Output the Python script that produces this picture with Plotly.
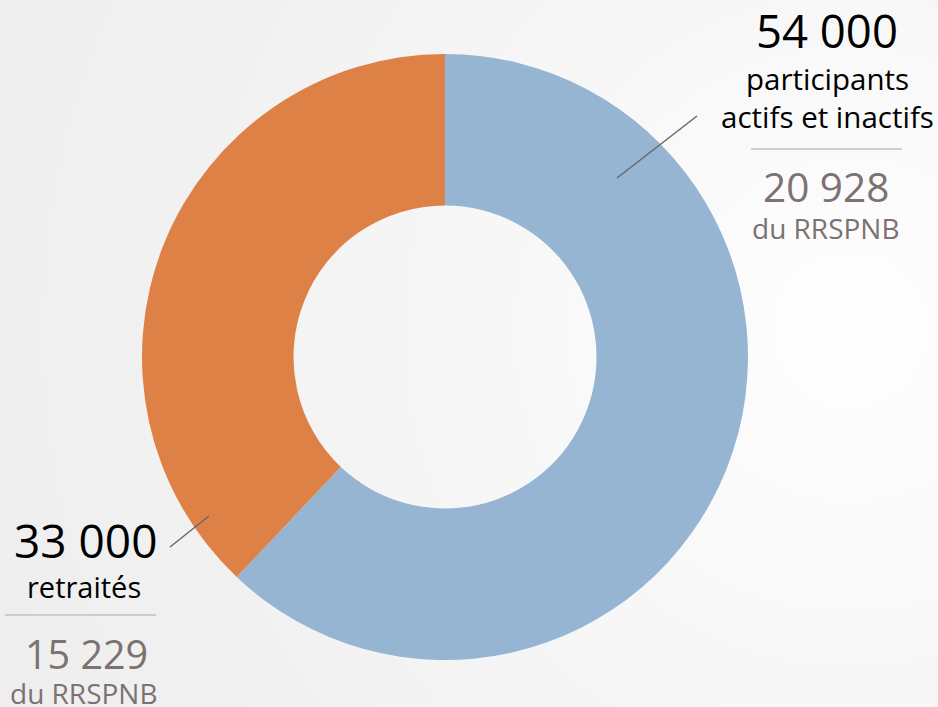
import plotly.graph_objects as go

labels = ["participants actifs et inactifs", "retraités"]
values = [54000, 33000]
rrspnb = [20928, 15229]
colors = ["#95B5D3", "#DE8147"]

W, H = 938, 707

fig = go.Figure()

# background radial gradient (concentric opaque circles)
shapes = []
cx, cy = 850, 330  # px from top-left
N = 60
Rmax = 950
for i in range(N, 0, -1):
    r = Rmax * i / N
    g = 255 - 17 * min(1.0, r / 900)
    g = int(round(g))
    col = f"rgb({g},{g-1 if g>240 else g},{g-1 if g>240 else g})"
    shapes.append(dict(type="circle", xref="paper", yref="paper", layer="below",
                       x0=(cx - r) / W, x1=(cx + r) / W,
                       y0=(H - cy - r) / H, y1=(H - cy + r) / H,
                       fillcolor=col, line=dict(width=0)))

# connector lines
shapes.append(dict(type="line", xref="paper", yref="paper", layer="above",
                   x0=617 / W, y0=(H - 178) / H, x1=697 / W, y1=(H - 116) / H,
                   line=dict(color="#6E6666", width=1.5)))
shapes.append(dict(type="line", xref="paper", yref="paper", layer="above",
                   x0=170 / W, y0=(H - 547) / H, x1=209 / W, y1=(H - 516) / H,
                   line=dict(color="#6E6666", width=1.5)))
# separator lines
shapes.append(dict(type="line", xref="paper", yref="paper", layer="above",
                   x0=751 / W, y0=(H - 149) / H, x1=902 / W, y1=(H - 149) / H,
                   line=dict(color="#C4BFBE", width=1.5)))
shapes.append(dict(type="line", xref="paper", yref="paper", layer="above",
                   x0=5 / W, y0=(H - 615) / H, x1=156 / W, y1=(H - 615) / H,
                   line=dict(color="#C4BFBE", width=1.5)))

fig.add_trace(go.Pie(
    labels=labels, values=values, hole=0.5, sort=False, direction="clockwise",
    rotation=0, marker=dict(colors=colors, line=dict(width=0)),
    textinfo="none", hoverinfo="label+value", showlegend=False,
    domain=dict(x=[142 / W, 748 / W], y=[(H - 660) / H, (H - 54) / H]),
))

def fmt(v):
    return f"{v:,}".replace(",", " ")

FONT = "Open Sans"
ann = []
def add(text, x, y, size, color):
    ann.append(dict(text=text, x=x / W, y=(H - y) / H, xref="paper", yref="paper",
                    showarrow=False, xanchor="center", yanchor="middle",
                    font=dict(family=FONT, size=size, color=color)))

add(fmt(values[0]), 827, 30, 45.5, "#000000")
add("participants", 827, 78, 29.5, "#000000")
add("actifs et inactifs", 827, 116, 29.5, "#000000")
add(fmt(rrspnb[0]), 826, 186, 40.5, "#7B7271")
add("du RRSPNB", 826, 228, 28, "#7B7271")

add(fmt(values[1]), 85, 540, 46, "#000000")
add(labels[1], 84, 586, 29, "#000000")
add(fmt(rrspnb[1]), 86, 654, 39.5, "#7B7271")
add("du RRSPNB", 84, 693, 28, "#7B7271")

fig.update_layout(width=W, height=H, margin=dict(l=0, r=0, t=0, b=0),
                  paper_bgcolor="#EEEDED", plot_bgcolor="#EEEDED",
                  shapes=shapes, annotations=ann)

fig.write_html("out.html", config={"displayModeBar": False},
               post_script="document.body.style.margin='0';document.body.style.overflow='hidden';")
